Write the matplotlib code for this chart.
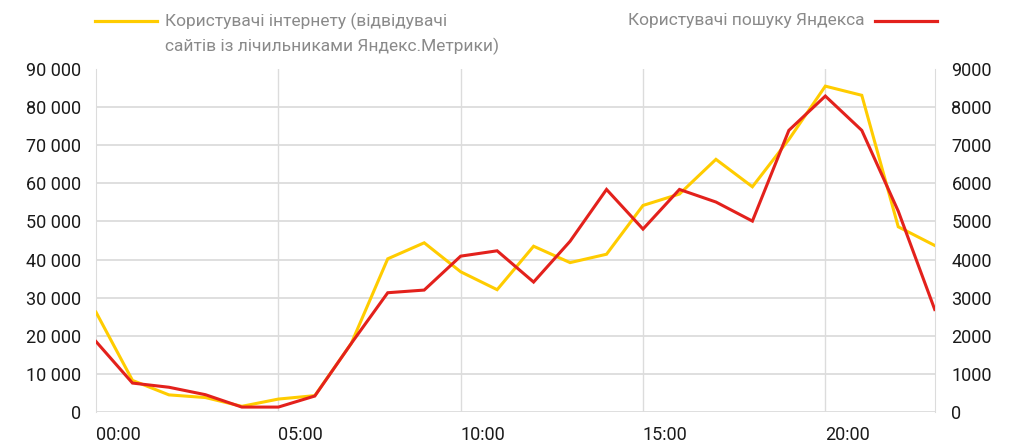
import matplotlib.pyplot as plt
from matplotlib.lines import Line2D

plt.rcParams['font.family'] = ['Roboto', 'DejaVu Sans']

# hours of the day 0..23
hours = list(range(24))
hour_labels = ['00:00', '05:00', '10:00', '15:00', '20:00']

# internet users (left axis)
internet = [26200, 8300, 4500, 3800, 1500, 3400, 4300, 18000, 40200, 44400,
            36800, 32100, 43500, 39200, 41400, 54200, 57200, 66300, 59100, 71500,
            85500, 83100, 48600, 43700]
# Yandex search users (right axis)
search = [1850, 760, 650, 455, 130, 130, 420, 1800, 3130, 3200,
          4090, 4230, 3410, 4480, 5840, 4800, 5840, 5510, 5010, 7390,
          8290, 7390, 5270, 2690]

yellow = '#FFCC00'
red = '#E3211C'
grid = '#DCDCDC'

fig = plt.figure(figsize=(10.16, 4.44), dpi=100)
ax = fig.add_axes([0.0945, 0.072, 0.8255, 0.7726])
ax2 = ax.twinx()

ax.plot(hours, internet, color=yellow, lw=2.2, solid_joinstyle='miter', zorder=3)
ax2.plot(hours, search, color=red, lw=2.2, solid_joinstyle='miter', zorder=3)

ax.set_xlim(0, 23)
ax.set_ylim(0, 90000)
ax2.set_ylim(0, 9000)

ax.set_yticks(range(0, 90001, 10000))
ax.set_yticklabels(['0' if v == 0 else f'{v // 1000} 000' for v in range(0, 90001, 10000)])
ax2.set_yticks(range(0, 9001, 1000))
ax2.set_yticklabels([str(v) for v in range(0, 9001, 1000)])

ax.set_xticks([0, 5, 10, 15, 20])
ax.set_xticklabels(hour_labels, ha='left')

# horizontal grid lines except the top
for v in range(0, 80001, 10000):
    ax.axhline(v, color=grid, lw=1.3, zorder=1)
for x in [5, 10, 15, 20]:
    ax.axvline(x, color=grid, lw=1.0, zorder=1)

for a in (ax, ax2):
    for s in a.spines.values():
        s.set_visible(False)
    a.tick_params(length=0, labelsize=13, colors='#1a1a1a')
ax.spines['left'].set_visible(True)
ax.spines['left'].set_color(grid)
ax2.spines['right'].set_visible(True)
ax2.spines['right'].set_color(grid)
ax.tick_params(axis='y', pad=11)
ax2.tick_params(axis='y', pad=12)
ax.tick_params(axis='x', pad=10)

# legend drawn by hand at the top
fig.add_artist(Line2D([95 / 1016, 157 / 1016], [1 - 21 / 444] * 2, color=yellow, lw=2.3))
fig.text(165 / 1016, 1 - 21 / 444, 'Користувачі інтернету (відвідувачі',
         color='#8a8a8a', fontsize=12.5, va='center')
fig.text(165 / 1016, 1 - 46 / 444, 'сайтів із лічильниками Яндекс.Метрики)',
         color='#8a8a8a', fontsize=12.5, va='center')
fig.text(864 / 1016, 1 - 21 / 444, 'Користувачі пошуку Яндекса',
         color='#8a8a8a', fontsize=12.5, va='center', ha='right')
fig.add_artist(Line2D([875 / 1016, 937 / 1016], [1 - 21 / 444] * 2, color=red, lw=2.3))

fig.savefig('out.png', dpi=100)
